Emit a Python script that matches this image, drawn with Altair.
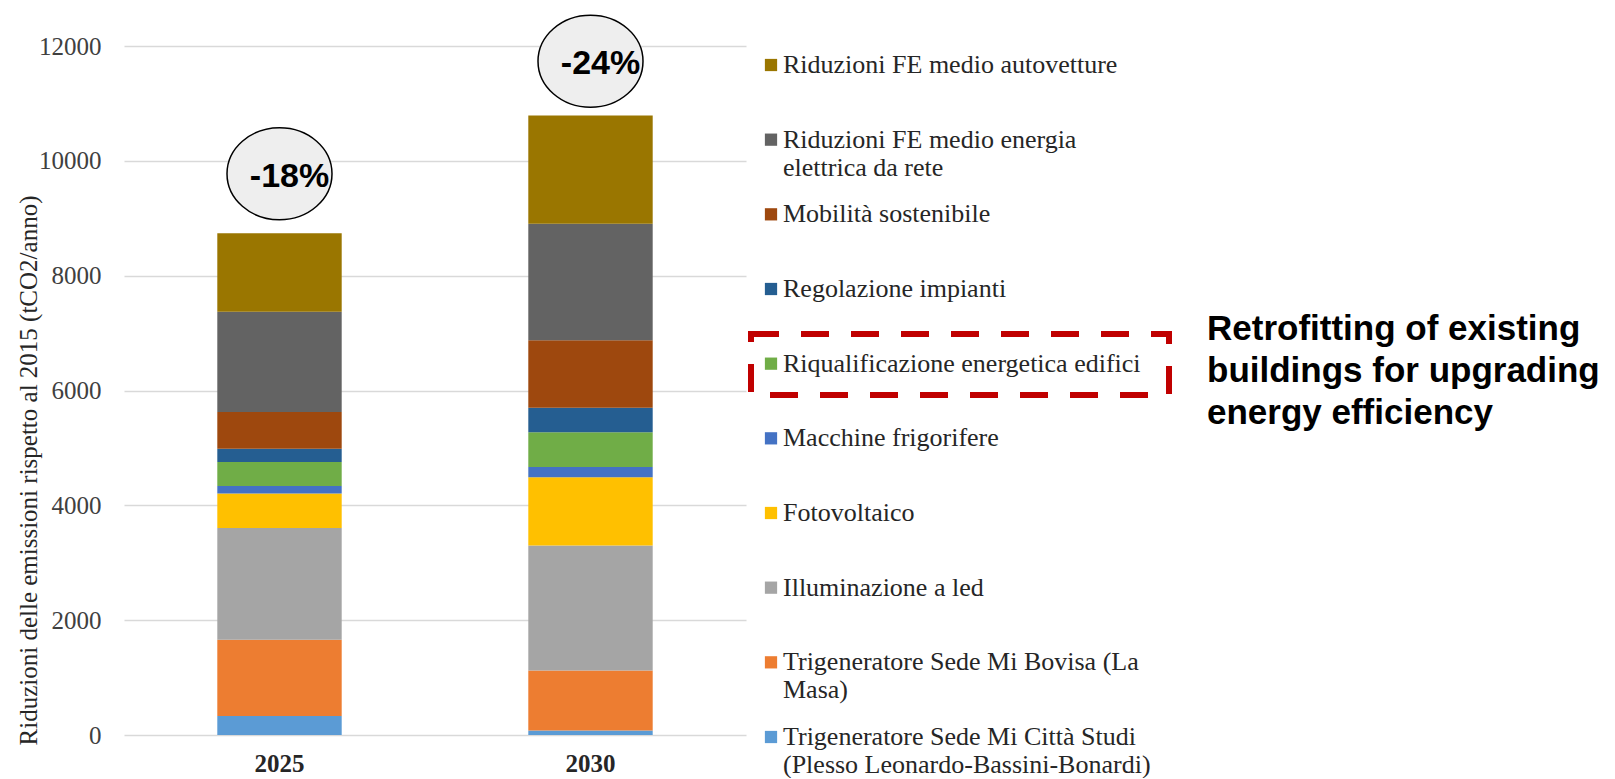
import altair as alt
import pandas as pd

# ---------------- data ----------------
years = ["2025", "2030"]

# stacking order: bottom -> top
categories = [
    "Trigeneratore Sede Mi Città Studi (Plesso Leonardo-Bassini-Bonardi)",
    "Trigeneratore Sede Mi Bovisa (La Masa)",
    "Illuminazione a led",
    "Fotovoltaico",
    "Macchine frigorifere",
    "Riqualificazione energetica edifici",
    "Regolazione impianti",
    "Mobilità sostenibile",
    "Riduzioni FE medio energia elettrica da rete",
    "Riduzioni FE medio autovetture",
]
legend_labels = [
    "Trigeneratore Sede Mi Città Studi\n(Plesso Leonardo-Bassini-Bonardi)",
    "Trigeneratore Sede Mi Bovisa (La\nMasa)",
    "Illuminazione a led",
    "Fotovoltaico",
    "Macchine frigorifere",
    "Riqualificazione energetica edifici",
    "Regolazione impianti",
    "Mobilità sostenibile",
    "Riduzioni FE medio energia\nelettrica da rete",
    "Riduzioni FE medio autovetture",
]
colors = ["#5B9BD5", "#ED7D31", "#A5A5A5", "#FFC000", "#4472C4",
          "#70AD47", "#255E91", "#9E480E", "#636363", "#9A7600"]

values_2025 = [332, 1326, 1949, 600, 128, 418, 233, 640, 1746, 1367]
values_2030 = [78, 1047, 2177, 1189, 178, 605, 427, 1174, 2029, 1886]

reduction_labels = ["-18%", "-24%"]
badge_y = [9775, 11735]

y_ticks = [0, 2000, 4000, 6000, 8000, 10000, 12000]
y_title = "Riduzioni delle emissioni rispetto al 2015 (tCO2/anno)"

highlight_cat = "Riqualificazione energetica edifici"
note_text = "Retrofitting of existing\nbuildings for upgrading\nenergy efficiency"

# ---------------- tables ----------------
rows = []
for yr, vals in zip(years, [values_2025, values_2030]):
    for i, (c, v) in enumerate(zip(categories, vals)):
        rows.append({"year": yr, "cat": c, "value": v, "order": i})
df = pd.DataFrame(rows)

badge_df = pd.DataFrame({"year": years, "value": badge_y, "label": reduction_labels})
legend_df = pd.DataFrame({"cat": categories, "label": legend_labels})
note_df = pd.DataFrame({"cat": [highlight_cat], "note": [note_text]})

color_scale = alt.Scale(domain=categories, range=colors)
SERIF = "Liberation Serif"
SANS = "Liberation Sans"

# ---------------- bar panel ----------------
x_scale = alt.Scale(domain=years, paddingInner=0.6, paddingOuter=0.3)
y_scale = alt.Scale(domain=[0, 12000], nice=False)

bars = alt.Chart(df).mark_bar().encode(
    x=alt.X("year:N", title=None, scale=x_scale,
            axis=alt.Axis(labelAngle=0, labelFont=SERIF, labelFontSize=25,
                          labelFontWeight="bold", labelColor="#262626",
                          ticks=False, tickSize=0, domain=False, labelPadding=16)),
    y=alt.Y("value:Q", stack="zero", scale=y_scale,
            axis=alt.Axis(values=y_ticks, format="d", title=y_title,
                          labelFont=SERIF, labelFontSize=25, labelColor="#404040",
                          labelPadding=23, ticks=False, tickSize=0, domain=False,
                          grid=True, gridColor="#D9D9D9", gridWidth=1.3,
                          titleFont=SERIF, titleFontSize=25, titleFontWeight="normal",
                          titleColor="#262626", titleX=-96, titleY=424,
                          titleBaseline="middle")),
    color=alt.Color("cat:N", scale=color_scale, legend=None),
    order=alt.Order("order:Q", sort="ascending"),
)

ELLIPSE = "M-1,0 A1,0.876 0 1,1 1,0 A1,0.876 0 1,1 -1,0 Z"
badges = alt.Chart(badge_df).mark_point(
    shape=ELLIPSE, size=11025, filled=True, fill="#EEEEEE",
    stroke="black", strokeWidth=1.5, opacity=1, fillOpacity=1,
).encode(
    x=alt.X("year:N", scale=x_scale),
    y=alt.Y("value:Q", scale=y_scale),
)
badge_text = alt.Chart(badge_df).mark_text(
    font=SANS, fontWeight="bold", fontSize=34, dx=10, dy=3, color="black",
).encode(
    x=alt.X("year:N", scale=x_scale),
    y=alt.Y("value:Q", scale=y_scale),
    text="label:N",
)

left = alt.layer(bars, badges, badge_text).properties(width=622, height=689)

# ---------------- legend / annotation panel ----------------
legend_order = categories[::-1]
yleg = alt.Y("cat:N",
             scale=alt.Scale(type="point", domain=legend_order, range=[19, 691], padding=0),
             axis=None)

box = alt.Chart(note_df).mark_rect(
    fill="white", fillOpacity=0, stroke="#C00000", strokeWidth=6, strokeDash=[28, 22],
).encode(x=alt.value(5), x2=alt.value(423), y=alt.value(288), y2=alt.value(349))

squares = alt.Chart(legend_df).mark_square(size=150, opacity=1).encode(
    x=alt.value(25), y=yleg,
    color=alt.Color("cat:N", scale=color_scale, legend=None),
)
texts = alt.Chart(legend_df).mark_text(
    align="left", baseline="middle", font=SERIF, fontSize=26,
    lineBreak="\n", lineHeight=28, color="#262626",
).encode(x=alt.value(37), y=yleg, text="label:N")

note = alt.Chart(note_df).mark_text(
    align="left", baseline="middle", font=SANS, fontWeight="bold", fontSize=35,
    lineBreak="\n", lineHeight=42, dy=-35, color="black",
).encode(x=alt.value(461), y=yleg, text="note:N")

right = alt.layer(box, squares, texts, note).properties(width=840, height=689)

chart = alt.hconcat(left, right, spacing=0, bounds="flush").properties(
    padding={"left": 8, "top": 4, "right": 0, "bottom": 0}
).configure_view(stroke=None)

chart.save("out.html", embed_options={"renderer": "svg", "actions": False})
